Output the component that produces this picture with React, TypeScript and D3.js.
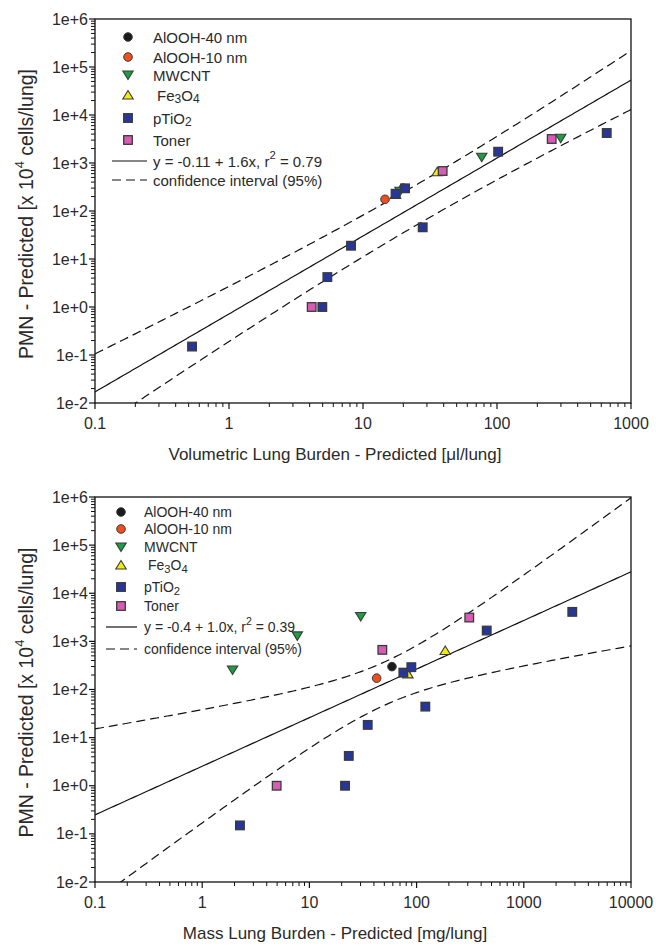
import React from "react";
import * as d3 from "d3";

const W = 656;
const H = 947;

// ---- tick labels ----
const yTickValues = [1e-2, 1e-1, 1e0, 1e1, 1e2, 1e3, 1e4, 1e5, 1e6];
const yTickLabels = ["1e-2", "1e-1", "1e+0", "1e+1", "1e+2", "1e+3", "1e+4", "1e+5", "1e+6"];
const volTickValues = [0.1, 1, 10, 100, 1000];
const volTickLabels = ["0.1", "1", "10", "100", "1000"];
const massTickValues = [0.1, 1, 10, 100, 1000, 10000];
const massTickLabels = ["0.1", "1", "10", "100", "1000", "10000"];

// ---- series names ----
const seriesNames = ["AlOOH-40 nm", "AlOOH-10 nm", "MWCNT", "Fe3O4", "pTiO2", "Toner"];

// ---- top chart: volumetric lung burden [µl/lung] vs PMN ----
const volAlOOH40 = [[20.0, 300]];
const volAlOOH10 = [[14.6, 175]];
const volMWCNT = [[18.9, 258], [76.9, 1315], [299, 3270]];
const volFe3O4 = [[17.5, 220], [35.8, 659]];
const volPTiO2 = [[0.53, 0.15], [4.97, 1.0], [5.42, 4.2], [8.14, 18.9], [27.9, 45.7], [17.5, 229], [20.6, 297], [102, 1718], [659, 4217]];
const volToner = [[4.14, 1.0], [39.3, 681], [256, 3162]];

// ---- bottom chart: mass lung burden [mg/lung] vs PMN ----
const massAlOOH40 = [[58.9, 299]];
const massAlOOH10 = [[42.4, 172]];
const massMWCNT = [[1.92, 255], [7.71, 1300], [30.1, 3280]];
const massFe3O4 = [[83, 211], [185, 644]];
const massPTiO2 = [[2.25, 0.15], [21.5, 1.0], [23.3, 4.17], [35, 18.4], [120.6, 44.1], [75.2, 224], [89.3, 291], [451, 1679], [2833, 4104]];
const massToner = [[4.95, 1.0], [47.9, 666], [310, 3126]];

// ---- regression (log-log) and 95% band parameters ----
const volFit = { intercept: -0.145, slope: 1.624, ciA: 0.42, ciB: 0.28, ciM: 1.4 };
const massFit = { intercept: 0.405, slope: 1.01, ciA: 0.45, ciB: 0.64, ciM: 1.7 };

const volEq = { eq: "y = -0.11 + 1.6x, r", r2: " = 0.79" };
const massEq = { eq: "y = -0.4 + 1.0x, r", r2: " = 0.39" };

const FONT = "'Liberation Sans', Arial, Helvetica, sans-serif";
const TEXT = "#2a2a2a";
const STROKE = "#3a3a3a";

const styles = [
  { shape: "circle", fill: "#1b1b1b" },
  { shape: "circle", fill: "#ef4f1f" },
  { shape: "down", fill: "#1c9e42" },
  { shape: "up", fill: "#f4ea12" },
  { shape: "square", fill: "#27369b" },
  { shape: "square", fill: "#d65cb4" },
];

function Marker({ shape, fill, x, y }: any) {
  if (shape === "circle")
    return <circle cx={x} cy={y} r={4.3} fill={fill} stroke={STROKE} strokeWidth={1} />;
  if (shape === "square")
    return <rect x={x - 4.3} y={y - 4.3} width={8.6} height={8.6} fill={fill} stroke={STROKE} strokeWidth={1.3} />;
  if (shape === "down")
    return (
      <path d={`M${x - 5.2},${y - 4} L${x + 5.2},${y - 4} L${x},${y + 4.5} Z`} fill={fill} stroke={STROKE} strokeWidth={1.1} />
    );
  return <path d={`M${x - 5.2},${y + 4} L${x + 5.2},${y + 4} L${x},${y - 4.5} Z`} fill={fill} stroke={STROKE} strokeWidth={1.1} />;
}

function LegendLabel({ name, x, y, fs }: any) {
  if (name === "Fe3O4")
    return (
      <text x={x + 4} y={y} fontSize={fs} fill={TEXT} dominantBaseline="central">
        Fe<tspan dy={4} fontSize={fs * 0.8}>3</tspan>
        <tspan dy={-4}>O</tspan>
        <tspan dy={4} fontSize={fs * 0.8}>4</tspan>
      </text>
    );
  if (name === "pTiO2")
    return (
      <text x={x} y={y} fontSize={fs} fill={TEXT} dominantBaseline="central">
        pTiO<tspan dy={4} fontSize={fs * 0.8}>2</tspan>
      </text>
    );
  return (
    <text x={x} y={y} fontSize={fs} fill={TEXT} dominantBaseline="central">
      {name}
    </text>
  );
}

function Panel({ top, bottom, xDomain, xTicks, xLabels, series, fit, legend, eq, xTitle }: any) {
  const left = 95;
  const right = 631;
  const x = d3.scaleLog().domain(xDomain).range([left, right]);
  const y = d3.scaleLog().domain([1e-2, 1e6]).range([bottom, top]);

  const minor: number[] = [];
  const lx0 = Math.log10(xDomain[0]);
  const lx1 = Math.log10(xDomain[1]);
  for (let k = Math.round(lx0); k < Math.round(lx1); k++)
    for (let m = 2; m <= 9; m++) minor.push(m * Math.pow(10, k));
  const yMinor: number[] = [];
  for (let k = -2; k < 6; k++) for (let m = 2; m <= 9; m++) yMinor.push(m * Math.pow(10, k));

  const grid = d3.range(0, 201).map((i) => lx0 + ((lx1 - lx0) * i) / 200);
  const fitFn = (lx: number) => fit.intercept + fit.slope * lx;
  const off = (lx: number) => Math.sqrt(fit.ciA * fit.ciA + fit.ciB * fit.ciB * (lx - fit.ciM) * (lx - fit.ciM));
  const line = d3
    .line<number[]>()
    .x((d) => x(Math.pow(10, d[0])))
    .y((d) => y(Math.pow(10, d[1])));
  const mainPath = line(grid.map((g) => [g, fitFn(g)]));
  const upPath = line(grid.map((g) => [g, fitFn(g) + off(g)]));
  const loPath = line(grid.map((g) => [g, fitFn(g) - off(g)]));
  const clipId = `clip${top}`;

  return (
    <g fontFamily={FONT}>
      <defs>
        <clipPath id={clipId}>
          <rect x={left} y={top} width={right - left} height={bottom - top} />
        </clipPath>
      </defs>
      <g clipPath={`url(#${clipId})`} fill="none" stroke="#111" strokeWidth={1.2}>
        <path d={mainPath || ""} />
        <path d={upPath || ""} strokeDasharray="9,5" />
        <path d={loPath || ""} strokeDasharray="9,5" />
      </g>
      {/* frame */}
      <rect x={left} y={top} width={right - left} height={bottom - top} fill="none" stroke="#111" strokeWidth={1.3} />
      {/* x ticks */}
      {xTicks.map((t: number, i: number) => (
        <g key={`xt${i}`}>
          <line x1={x(t)} x2={x(t)} y1={bottom} y2={bottom + 6} stroke="#111" strokeWidth={1.2} />
          <text x={x(t)} y={bottom + 20} fontSize={16} fill={TEXT} textAnchor="middle" dominantBaseline="central">
            {xLabels[i]}
          </text>
        </g>
      ))}
      {minor.map((t, i) => (
        <line key={`xm${i}`} x1={x(t)} x2={x(t)} y1={bottom} y2={bottom + 4} stroke="#111" strokeWidth={1} />
      ))}
      {/* y ticks */}
      {yTickValues.map((t, i) => (
        <g key={`yt${i}`}>
          <line x1={left - 6} x2={left} y1={y(t)} y2={y(t)} stroke="#111" strokeWidth={1.2} />
          <text x={left - 7} y={y(t)} fontSize={16} fill={TEXT} textAnchor="end" dominantBaseline="central">
            {yTickLabels[i]}
          </text>
        </g>
      ))}
      {yMinor.map((t, i) => (
        <line key={`ym${i}`} x1={left - 4} x2={left} y1={y(t)} y2={y(t)} stroke="#111" strokeWidth={1} />
      ))}
      {/* points */}
      {series.map((s: number[][], si: number) =>
        s.map((p, pi) => <Marker key={`p${si}-${pi}`} {...styles[si]} x={x(p[0])} y={y(p[1])} />)
      )}
      {/* legend */}
      {seriesNames.map((n, i) => (
        <g key={`lg${i}`}>
          <Marker {...styles[i]} x={legend.mx} y={legend.rows[i]} />
          <LegendLabel name={n} x={legend.tx} y={legend.rows[i]} fs={legend.fs} />
        </g>
      ))}
      <line x1={legend.l1} x2={legend.l2} y1={legend.rows[6]} y2={legend.rows[6]} stroke="#111" strokeWidth={1.2} />
      <text x={legend.tx} y={legend.rows[6]} fontSize={legend.fs} fill={TEXT} dominantBaseline="central">
        {eq.eq}
        <tspan dy={-6} fontSize={legend.fs * 0.75}>2</tspan>
        <tspan dy={6}>{eq.r2}</tspan>
      </text>
      <line x1={legend.l1} x2={legend.l2} y1={legend.rows[7]} y2={legend.rows[7]} stroke="#111" strokeWidth={1.2} strokeDasharray="9,5" />
      <text x={legend.tx} y={legend.rows[7]} fontSize={legend.fs} fill={TEXT} dominantBaseline="central">
        confidence interval (95%)
      </text>
      {/* titles */}
      <text x={335} y={bottom + 51} fontSize={17} fill={TEXT} textAnchor="middle" dominantBaseline="central">
        {xTitle}
      </text>
      <text
        transform={`translate(26,${(top + bottom) / 2 + 3}) rotate(-90)`}
        fontSize={19.5}
        fill={TEXT}
        textAnchor="middle"
        dominantBaseline="central"
      >
        PMN - Predicted [x 10<tspan dy={-7} fontSize={13}>4</tspan>
        <tspan dy={7}> cells/lung]</tspan>
      </text>
    </g>
  );
}

export default function App() {
  const topLegend = { mx: 128, tx: 153, fs: 15, l1: 112, l2: 147, rows: [37, 57, 75, 95, 118, 140, 161, 180] };
  const botLegend = { mx: 121, tx: 144, fs: 14, l1: 106, l2: 137, rows: [512, 529, 547, 565, 587, 606, 627, 649] };
  return (
    <svg width={W} height={H} style={{ display: "block", position: "absolute", left: 0, top: 0, background: "#fff" }}>
      <rect width={W} height={H} fill="#fff" />
      <Panel
        top={19}
        bottom={403}
        xDomain={[0.1, 1000]}
        xTicks={volTickValues}
        xLabels={volTickLabels}
        series={[volAlOOH40, volAlOOH10, volMWCNT, volFe3O4, volPTiO2, volToner]}
        fit={volFit}
        legend={topLegend}
        eq={volEq}
        xTitle="Volumetric Lung Burden - Predicted [μl/lung]"
      />
      <Panel
        top={497}
        bottom={882}
        xDomain={[0.1, 10000]}
        xTicks={massTickValues}
        xLabels={massTickLabels}
        series={[massAlOOH40, massAlOOH10, massMWCNT, massFe3O4, massPTiO2, massToner]}
        fit={massFit}
        legend={botLegend}
        eq={massEq}
        xTitle="Mass Lung Burden - Predicted [mg/lung]"
      />
    </svg>
  );
}
